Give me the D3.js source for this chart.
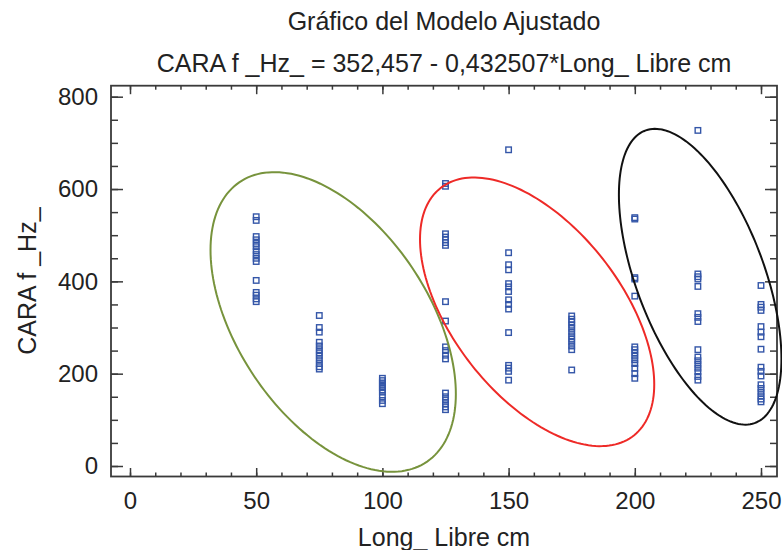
<!DOCTYPE html>
<html>
<head>
<meta charset="utf-8">
<script src="https://cdn.jsdelivr.net/npm/d3@7"></script>
<style>
  body { margin: 0; background: #fff; }
  text { font-family: 'Liberation Sans', Arial, sans-serif; fill: #222; }
</style>
</head>
<body>
<div id="chart"></div>
<script>
// Long_ Libre cm categories and CARA f _Hz_ readings at each of them
let longLibre = [50, 75, 100, 125, 150, 175, 200, 225, 250]
let caraAt50 = [540, 532, 497, 490, 482, 475, 466, 458, 450, 443, 402, 376, 370, 362, 356]
let caraAt75 = [326, 300, 290, 268, 260, 252, 245, 238, 230, 222, 215, 210]
let caraAt100 = [190, 185, 180, 175, 170, 165, 160, 150, 142, 135]
let caraAt125 = [612, 606, 503, 496, 490, 484, 478, 356, 314, 258, 250, 240, 232, 158, 150, 143, 135, 128, 122]
let caraAt150 = [685, 462, 436, 425, 395, 388, 378, 360, 350, 340, 289, 218, 212, 205, 186]
let caraAt175 = [325, 318, 312, 305, 298, 290, 282, 275, 268, 260, 252, 208]
let caraAt200 = [538, 535, 408, 405, 368, 258, 252, 245, 238, 230, 222, 212, 200, 190]
let caraAt225 = [727, 416, 410, 405, 389, 330, 322, 313, 252, 236, 228, 220, 212, 204, 194, 186]
let caraAt250 = [391, 350, 344, 337, 302, 290, 280, 253, 214, 205, 195, 176, 168, 160, 152, 145, 139]

// group ellipses (centre, spread, correlation) in data units
let ellipseCenterX = [80.5, 161.3, 225.9]
let ellipseCenterY = [312, 334, 410]
let ellipseSpreadX = [48.6, 46.4, 32.2]
let ellipseSpreadY = [324.6, 291, 320.4]
let ellipseCorr = [-0.48, -0.54, -0.555]

let xTicks = [0, 50, 100, 150, 200, 250]
let yTicks = [0, 200, 400, 600, 800]

let width = 782
let height = 550
let frame = { left: 111, right: 777, top: 85.7, bottom: 476.5 }

let svg = d3
  .select('#chart')
  .append('svg')
  .attr('width', width)
  .attr('height', height)

let xScale = d3.scaleLinear().domain([0, 250]).range([130, 761])
let yScale = d3.scaleLinear().domain([0, 800]).range([466, 96.7])

let columns = [caraAt50, caraAt75, caraAt100, caraAt125, caraAt150, caraAt175, caraAt200, caraAt225, caraAt250]
let points = []
columns.forEach((col, i) => {
  col.forEach(v => points.push({ x: longLibre[i], y: v }))
})

let ellipses = ellipseCenterX.map((cx, i) => ({
  cx: cx,
  cy: ellipseCenterY[i],
  sx: ellipseSpreadX[i],
  sy: ellipseSpreadY[i],
  r: ellipseCorr[i]
}))
let ellipseColors = ['#77933c', '#ee2a27', '#111111']

// frame
svg
  .append('rect')
  .attr('x', frame.left)
  .attr('y', frame.top)
  .attr('width', frame.right - frame.left)
  .attr('height', frame.bottom - frame.top)
  .attr('fill', 'none')
  .attr('stroke', '#3a3a3a')
  .attr('stroke-width', 1.8)

function styleAxis(g) {
  g.select('.domain').remove()
  g.selectAll('line').attr('stroke', '#3a3a3a').attr('stroke-width', 1.5)
  g.selectAll('text')
    .attr('font-size', 24)
    .attr('font-family', "'Liberation Sans', Arial, sans-serif")
    .attr('fill', '#222')
}

let xMinor = d3.range(0, 251, 10)
let yMinor = d3.range(0, 801, 50)

// bottom axis
svg.append('g')
  .attr('transform', `translate(0,${frame.bottom})`)
  .call(d3.axisBottom(xScale).tickValues(xMinor).tickSize(-4).tickFormat(''))
  .call(styleAxis)
svg.append('g')
  .attr('transform', `translate(0,${frame.bottom})`)
  .call(d3.axisBottom(xScale).tickValues(xTicks).tickSize(-8.5).tickPadding(15).tickFormat(d3.format('d')))
  .call(styleAxis)

// top axis
svg.append('g')
  .attr('transform', `translate(0,${frame.top})`)
  .call(d3.axisTop(xScale).tickValues(xMinor).tickSize(-4).tickFormat(''))
  .call(styleAxis)
svg.append('g')
  .attr('transform', `translate(0,${frame.top})`)
  .call(d3.axisTop(xScale).tickValues(xTicks).tickSize(-8.5).tickFormat(''))
  .call(styleAxis)

// left axis
svg.append('g')
  .attr('transform', `translate(${frame.left},0)`)
  .call(d3.axisLeft(yScale).tickValues(yMinor).tickSize(-7).tickFormat(''))
  .call(styleAxis)
svg.append('g')
  .attr('transform', `translate(${frame.left},0)`)
  .call(d3.axisLeft(yScale).tickValues(yTicks).tickSize(-12).tickPadding(13).tickFormat(d3.format('d')))
  .call(styleAxis)

// right axis
svg.append('g')
  .attr('transform', `translate(${frame.right},0)`)
  .call(d3.axisLeft(yScale).tickValues(yMinor).tickSize(7).tickFormat(''))
  .call(styleAxis)
svg.append('g')
  .attr('transform', `translate(${frame.right},0)`)
  .call(d3.axisLeft(yScale).tickValues(yTicks).tickSize(12).tickFormat(''))
  .call(styleAxis)

// points
svg
  .selectAll('.pt')
  .data(points)
  .enter()
  .append('rect')
  .attr('class', 'pt')
  .attr('x', d => xScale(d.x) - 2.75)
  .attr('y', d => yScale(d.y) - 2.75)
  .attr('width', 5.5)
  .attr('height', 5.5)
  .attr('fill', 'none')
  .attr('stroke', '#3456a8')
  .attr('stroke-width', 1.4)

// ellipses
let line = d3.line().x(d => xScale(d[0])).y(d => yScale(d[1]))
svg
  .selectAll('.ell')
  .data(ellipses)
  .enter()
  .append('path')
  .attr('class', 'ell')
  .attr('d', e => {
    let pts = d3.range(0, 2 * Math.PI, Math.PI / 90).map(t => [
      e.cx + e.sx * Math.cos(t),
      e.cy + e.sy * (e.r * Math.cos(t) + Math.sqrt(1 - e.r * e.r) * Math.sin(t))
    ])
    return line(pts) + 'Z'
  })
  .attr('fill', 'none')
  .attr('stroke', (d, i) => ellipseColors[i])
  .attr('stroke-width', 2)

// titles
let midX = (frame.left + frame.right) / 2
svg.append('text')
  .attr('x', midX)
  .attr('y', 30)
  .attr('text-anchor', 'middle')
  .attr('font-size', 25)
  .text('Gráfico del Modelo Ajustado')
svg.append('text')
  .attr('x', midX)
  .attr('y', 72)
  .attr('text-anchor', 'middle')
  .attr('font-size', 25)
  .text('CARA f _Hz_ = 352,457 - 0,432507*Long_ Libre cm')

svg.append('text')
  .attr('x', midX)
  .attr('y', 546)
  .attr('text-anchor', 'middle')
  .attr('font-size', 25)
  .text('Long_ Libre cm')

svg.append('text')
  .attr('transform', `translate(36,${(frame.top + frame.bottom) / 2}) rotate(-90)`)
  .attr('text-anchor', 'middle')
  .attr('font-size', 25)
  .text('CARA f _Hz_')
</script>
</body>
</html>
